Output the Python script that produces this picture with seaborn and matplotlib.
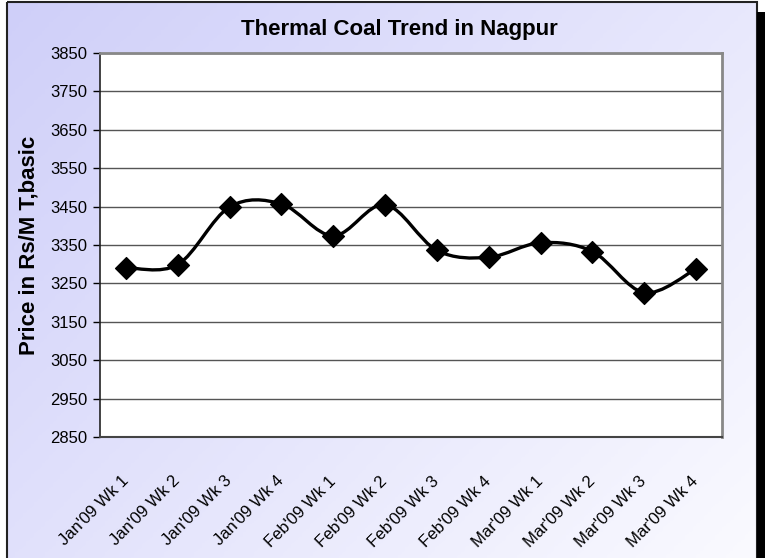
import numpy as np
import pandas as pd
import matplotlib.pyplot as plt
from matplotlib.path import Path
from matplotlib.patches import PathPatch, Rectangle
import seaborn as sns

# chart data
weeks = ["Jan'09 Wk 1", "Jan'09 Wk 2", "Jan'09 Wk 3", "Jan'09 Wk 4",
         "Feb'09 Wk 1", "Feb'09 Wk 2", "Feb'09 Wk 3", "Feb'09 Wk 4",
         "Mar'09 Wk 1", "Mar'09 Wk 2", "Mar'09 Wk 3", "Mar'09 Wk 4"]
prices = [3291, 3299, 3449, 3457, 3374, 3455, 3336, 3318, 3356, 3333, 3226, 3288]
y_ticks = [2850, 2950, 3050, 3150, 3250, 3350, 3450, 3550, 3650, 3750, 3850]

df = pd.DataFrame({'week': weeks, 'price': prices})

sns.set_theme(style='white')
plt.rcParams['font.family'] = ['Liberation Sans', 'DejaVu Sans']
plt.rcParams['text.color'] = 'black'
plt.rcParams['axes.labelcolor'] = 'black'
plt.rcParams['xtick.color'] = 'black'
plt.rcParams['ytick.color'] = 'black'

W, H = 765, 558
fig = plt.figure(figsize=(W / 100, H / 100), dpi=100)
fig.patch.set_facecolor('white')

# lavender gradient background with frame
bg = fig.add_axes([0, 0, 1, 1], zorder=-10)
bg.set_xlim(0, W)
bg.set_ylim(H, 0)
bg.axis('off')
gx, gy = np.meshgrid(np.linspace(0, 1, 200), np.linspace(0, 1, 200))
grad = (gx * 0.7 + gy * 0.5) / 1.2
bg.imshow(grad, extent=[7, 757, H + 2, 2], cmap=sns.blend_palette(['#cfcff9', '#fafaff'], as_cmap=True),
          aspect='auto', zorder=0)
bg.add_patch(Rectangle((7, 2), 750, H, fill=False, edgecolor='#222222', lw=1.5, zorder=2))
bg.add_patch(Rectangle((757, 12), 8, H, color='black', lw=0, zorder=2))

# plot area
ax = fig.add_axes([100 / W, 1 - 437 / H, 622 / W, 384 / H])
ax.set_facecolor('white')

x = np.arange(len(prices))
y = np.array(prices, dtype=float)

# Excel-like smoothed line through the points (cubic Bezier segments)
verts = [(x[0], y[0])]
codes = [Path.MOVETO]
n = len(x)
for i in range(n - 1):
    p0 = np.array([x[max(i - 1, 0)], y[max(i - 1, 0)]])
    p1 = np.array([x[i], y[i]])
    p2 = np.array([x[i + 1], y[i + 1]])
    p3 = np.array([x[min(i + 2, n - 1)], y[min(i + 2, n - 1)]])
    c1 = p1 + (p2 - p0) / 6
    c2 = p2 - (p3 - p1) / 6
    verts += [tuple(c1), tuple(c2), tuple(p2)]
    codes += [Path.CURVE4] * 3
ax.add_patch(PathPatch(Path(verts, codes), fill=False, edgecolor='black', lw=2.4, zorder=3))

sns.scatterplot(data=df, x='week', y='price', marker='D', s=125, color='black',
                edgecolor='black', ax=ax, zorder=4)

ax.set_xlim(-0.5, n - 0.5)
ax.set_ylim(2850, 3850)
ax.set_yticks(y_ticks)
ax.set_yticklabels([str(t) for t in y_ticks], fontsize=12)
ax.yaxis.grid(True, color='#555555', lw=1)
ax.set_axisbelow(True)

ax.set_xticks(x)
ax.set_xticklabels(weeks, rotation=45, ha='right', va='center', rotation_mode='anchor', fontsize=12)
ax.set_xticks(np.arange(-0.5, n, 1), minor=True)
ax.tick_params(axis='x', which='major', length=0, pad=30)
ax.tick_params(axis='x', which='minor', length=5, width=1, color='black', direction='out')
ax.tick_params(axis='y', length=5, width=1, color='black', direction='out', left=True, pad=4)

for s in ['top', 'right']:
    ax.spines[s].set_color('#888888')
    ax.spines[s].set_linewidth(2)
ax.spines['left'].set_color('#222222')
ax.spines['bottom'].set_color('#444444')
ax.spines['left'].set_linewidth(1.2)
ax.spines['bottom'].set_linewidth(1.5)

ax.set_xlabel('')
ax.set_ylabel('Price in Rs/M T,basic', fontsize=16, fontweight='bold', labelpad=8)

fig.text(399 / W, 1 - 30 / H, 'Thermal Coal Trend in Nagpur', ha='center', va='center',
         fontsize=16, fontweight='bold')

fig.savefig('out.png', dpi=100)
